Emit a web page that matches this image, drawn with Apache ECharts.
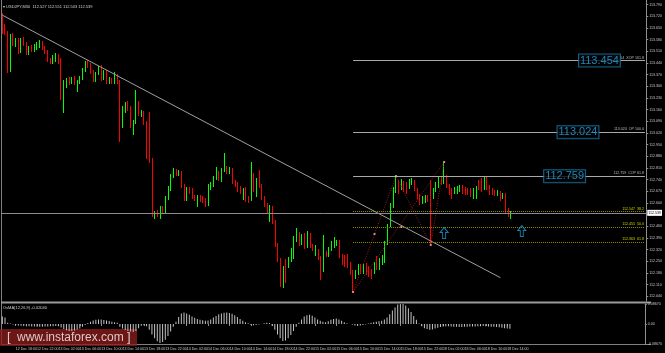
<!DOCTYPE html>
<html>
<head>
<meta charset="utf-8">
<title>USDJPY M30</title>
<script src="https://cdn.jsdelivr.net/npm/echarts@6.0.0/dist/echarts.min.js"></script>
<style>
html, body { margin: 0; padding: 0; background: #000; }
#chart { width: 665px; height: 353px; }
</style>
</head>
<body>
<div id="chart"></div>
<script>
const symbolName = "USDJPY,M30";

// one row per M30 bar: [open, close, low, high]
const ohlc = [
  [113.697, 113.625, 113.613, 113.739], [113.637, 113.619, 113.607, 113.673], [113.619, 113.397, 113.379, 113.631],
  [113.397, 113.601, 113.385, 113.613], [113.601, 113.553, 113.541, 113.619], [113.553, 113.577, 113.535, 113.589],
  [113.577, 113.505, 113.493, 113.589], [113.505, 113.577, 113.499, 113.589], [113.577, 113.553, 113.541, 113.595],
  [113.553, 113.499, 113.487, 113.565], [113.499, 113.529, 113.487, 113.541], [113.529, 113.517, 113.505, 113.547],
  [113.517, 113.535, 113.505, 113.553], [113.535, 113.547, 113.517, 113.565], [113.547, 113.565, 113.529, 113.577],
  [113.565, 113.529, 113.517, 113.571], [113.529, 113.505, 113.493, 113.541], [113.505, 113.457, 113.445, 113.517],
  [113.457, 113.445, 113.433, 113.469], [113.445, 113.475, 113.433, 113.487], [113.475, 113.481, 113.445, 113.499],
  [113.481, 113.445, 113.433, 113.493], [113.457, 113.229, 113.217, 113.469], [113.229, 113.325, 113.139, 113.337],
  [113.313, 113.337, 113.289, 113.349], [113.337, 113.325, 113.307, 113.355], [113.325, 113.343, 113.313, 113.355],
  [113.343, 113.319, 113.307, 113.361], [113.319, 113.325, 113.265, 113.337], [113.325, 113.349, 113.313, 113.361],
  [113.349, 113.397, 113.337, 113.409], [113.397, 113.439, 113.385, 113.451], [113.439, 113.421, 113.409, 113.457],
  [113.421, 113.385, 113.373, 113.439], [113.385, 113.337, 113.325, 113.397], [113.337, 113.379, 113.325, 113.385],
  [113.379, 113.409, 113.367, 113.421], [113.409, 113.343, 113.331, 113.427], [113.343, 113.385, 113.337, 113.397],
  [113.385, 113.325, 113.313, 113.397], [113.325, 113.337, 113.313, 113.355], [113.337, 113.325, 113.313, 113.349],
  [113.325, 113.361, 113.313, 113.385], [113.361, 113.325, 113.313, 113.373], [113.325, 113.073, 112.965, 113.337],
  [113.073, 113.157, 113.049, 113.181], [113.157, 113.193, 113.139, 113.205], [113.193, 113.169, 113.151, 113.211],
  [113.169, 113.061, 113.049, 113.181], [113.061, 113.085, 113.007, 113.097], [113.085, 113.199, 113.073, 113.277],
  [113.199, 113.133, 113.121, 113.211], [113.133, 113.139, 113.115, 113.157], [113.139, 113.079, 113.067, 113.151],
  [113.079, 112.875, 112.863, 113.091], [112.875, 112.857, 112.839, 113.145], [112.857, 112.539, 112.515, 112.869],
  [112.521, 112.539, 112.503, 112.551], [112.545, 112.527, 112.515, 112.557], [112.521, 112.569, 112.503, 112.581],
  [112.569, 112.551, 112.539, 112.581], [112.551, 112.629, 112.539, 112.641], [112.629, 112.689, 112.617, 112.701],
  [112.689, 112.761, 112.671, 112.773], [112.761, 112.791, 112.749, 112.809], [112.791, 112.773, 112.761, 112.803],
  [112.773, 112.785, 112.761, 112.797], [112.779, 112.701, 112.689, 112.791], [112.701, 112.623, 112.611, 112.713],
  [112.623, 112.683, 112.611, 112.695], [112.683, 112.665, 112.653, 112.695], [112.677, 112.635, 112.623, 112.689],
  [112.635, 112.623, 112.611, 112.647], [112.623, 112.635, 112.575, 112.647], [112.635, 112.617, 112.605, 112.647],
  [112.623, 112.611, 112.599, 112.641], [112.617, 112.587, 112.575, 112.629], [112.587, 112.701, 112.581, 112.713],
  [112.689, 112.713, 112.677, 112.725], [112.707, 112.749, 112.695, 112.761], [112.749, 112.779, 112.737, 112.815],
  [112.779, 112.743, 112.731, 112.791], [112.737, 112.797, 112.725, 112.809], [112.797, 112.809, 112.785, 112.899],
  [112.809, 112.785, 112.773, 112.821], [112.785, 112.803, 112.773, 112.815], [112.797, 112.725, 112.713, 112.809],
  [112.725, 112.707, 112.695, 112.737], [112.713, 112.677, 112.665, 112.725], [112.689, 112.665, 112.653, 112.701],
  [112.629, 112.677, 112.617, 112.689], [112.683, 112.617, 112.605, 112.695], [112.629, 112.611, 112.599, 112.641],
  [112.617, 112.767, 112.611, 112.845], [112.767, 112.677, 112.665, 112.779], [112.665, 112.737, 112.635, 112.749],
  [112.749, 112.701, 112.689, 112.797], [112.701, 112.629, 112.617, 112.713], [112.629, 112.587, 112.575, 112.641],
  [112.587, 112.557, 112.539, 112.599], [112.527, 112.569, 112.485, 112.587], [112.569, 112.485, 112.473, 112.581],
  [112.485, 112.347, 112.335, 112.497], [112.347, 112.257, 112.245, 112.359], [112.257, 112.113, 112.095, 112.269],
  [112.107, 112.209, 112.089, 112.221], [112.245, 112.227, 112.119, 112.263], [112.227, 112.263, 112.209, 112.275],
  [112.257, 112.317, 112.245, 112.329], [112.305, 112.389, 112.263, 112.401], [112.377, 112.413, 112.365, 112.449],
  [112.413, 112.353, 112.341, 112.425], [112.359, 112.395, 112.347, 112.413], [112.401, 112.335, 112.323, 112.419],
  [112.341, 112.413, 112.329, 112.431], [112.407, 112.341, 112.329, 112.419], [112.341, 112.323, 112.311, 112.353],
  [112.293, 112.335, 112.281, 112.347], [112.311, 112.269, 112.257, 112.323], [112.269, 112.197, 112.137, 112.281],
  [112.197, 112.299, 112.185, 112.407], [112.299, 112.287, 112.275, 112.311], [112.287, 112.323, 112.275, 112.335],
  [112.323, 112.359, 112.311, 112.371], [112.341, 112.377, 112.329, 112.395], [112.353, 112.365, 112.341, 112.377],
  [112.365, 112.281, 112.269, 112.377], [112.281, 112.239, 112.227, 112.293], [112.269, 112.227, 112.215, 112.287],
  [112.281, 112.221, 112.209, 112.293], [112.233, 112.179, 112.167, 112.245], [112.185, 112.155, 112.065, 112.197],
  [112.155, 112.185, 112.143, 112.197], [112.179, 112.221, 112.167, 112.233], [112.221, 112.185, 112.173, 112.233],
  [112.185, 112.221, 112.173, 112.233], [112.227, 112.179, 112.167, 112.239], [112.209, 112.167, 112.155, 112.221],
  [112.191, 112.155, 112.143, 112.203], [112.185, 112.233, 112.173, 112.245], [112.263, 112.215, 112.197, 112.281],
  [112.209, 112.257, 112.197, 112.269], [112.239, 112.275, 112.227, 112.287], [112.251, 112.359, 112.239, 112.371],
  [112.359, 112.461, 112.347, 112.473], [112.467, 112.587, 112.455, 112.599], [112.587, 112.677, 112.569, 112.695],
  [112.677, 112.749, 112.659, 112.761], [112.725, 112.665, 112.653, 112.737], [112.689, 112.731, 112.677, 112.743],
  [112.719, 112.677, 112.665, 112.731], [112.713, 112.665, 112.653, 112.725], [112.695, 112.731, 112.683, 112.743],
  [112.719, 112.737, 112.707, 112.749], [112.725, 112.683, 112.671, 112.737], [112.677, 112.635, 112.623, 112.689],
  [112.641, 112.599, 112.587, 112.653], [112.605, 112.629, 112.593, 112.641], [112.611, 112.635, 112.599, 112.647],
  [112.635, 112.617, 112.605, 112.647], [112.701, 112.641, 112.347, 112.737], [112.635, 112.677, 112.623, 112.689],
  [112.677, 112.713, 112.665, 112.725], [112.701, 112.743, 112.689, 112.755], [112.743, 112.719, 112.707, 112.755],
  [112.725, 112.755, 112.713, 112.845], [112.755, 112.701, 112.689, 112.767], [112.701, 112.659, 112.647, 112.713],
  [112.677, 112.659, 112.623, 112.689], [112.665, 112.683, 112.653, 112.695], [112.665, 112.689, 112.653, 112.701],
  [112.677, 112.695, 112.665, 112.707], [112.695, 112.665, 112.653, 112.707], [112.683, 112.659, 112.647, 112.695],
  [112.677, 112.659, 112.647, 112.689], [112.677, 112.647, 112.635, 112.689], [112.635, 112.677, 112.623, 112.689],
  [112.635, 112.689, 112.623, 112.701], [112.725, 112.689, 112.677, 112.737], [112.731, 112.677, 112.665, 112.749],
  [112.689, 112.749, 112.677, 112.761], [112.749, 112.689, 112.677, 112.761], [112.695, 112.659, 112.647, 112.707],
  [112.677, 112.659, 112.647, 112.689], [112.665, 112.653, 112.641, 112.677], [112.653, 112.665, 112.641, 112.677],
  [112.659, 112.623, 112.611, 112.671], [112.635, 112.647, 112.623, 112.659], [112.647, 112.545, 112.533, 112.659],
  [112.557, 112.527, 112.515, 112.569], [112.527, 112.539, 112.503, 112.551]
];

// OsMA(12,26,9) per bar
const osma = [
  0.032, 0.028, 0.005, 0.002, -0.002, -0.004, -0.006, -0.008, -0.009, -0.010,
  -0.010, -0.011, -0.011, -0.012, -0.012, -0.012, -0.011, -0.011, -0.010, -0.010,
  -0.009, -0.010, -0.015, -0.022, -0.027, -0.030, -0.030, -0.028, -0.024, -0.019,
  -0.012, -0.004, 0.004, 0.010, 0.015, 0.018, 0.020, 0.019, 0.017, 0.015,
  0.013, 0.010, 0.008, 0.005, -0.012, -0.020, -0.026, -0.030, -0.033, -0.035,
  -0.030, -0.018, -0.008, -0.005, -0.010, -0.025, -0.045, -0.062, -0.075, -0.082,
  -0.078, -0.068, -0.052, -0.032, -0.012, 0.010, 0.030, 0.045, 0.050, 0.046,
  0.040, 0.033, 0.027, 0.022, 0.018, 0.016, 0.014, 0.015, 0.020, 0.028,
  0.035, 0.042, 0.046, 0.049, 0.050, 0.048, 0.044, 0.038, 0.030, 0.022,
  0.014, 0.008, 0.003, -0.003, -0.005, -0.004, -0.002, 0.000, 0.003, 0.005,
  0.004, -0.008, -0.025, -0.045, -0.062, -0.074, -0.072, -0.062, -0.048, -0.030,
  -0.012, 0.005, 0.020, 0.032, 0.038, 0.040, 0.036, 0.028, 0.020, 0.014,
  0.010, 0.008, 0.012, 0.018, 0.022, 0.024, 0.020, 0.014, 0.008, 0.003,
  0.000, -0.003, -0.006, -0.007, -0.006, -0.004, -0.002, 0.002, 0.005, 0.008,
  0.010, 0.012, 0.014, 0.020, 0.028, 0.042, 0.058, 0.072, 0.084, 0.090,
  0.088, 0.080, 0.068, 0.052, 0.035, 0.018, 0.002, -0.010, -0.018, -0.022,
  -0.025, -0.024, -0.020, -0.016, -0.013, -0.011, -0.010, -0.010, -0.011, -0.012,
  -0.012, -0.013, -0.013, -0.012, -0.012, -0.011, -0.011, -0.011, -0.010, -0.010,
  -0.009, -0.010, -0.011, -0.012, -0.012, -0.013, -0.014, -0.016, -0.018, -0.019,
  -0.0204
];

const timeTickBar = [0, 5, 13, 21, 29, 37, 45, 53, 61, 69, 77, 85, 93, 101, 109, 117, 125, 133, 141, 149, 157, 165, 173, 181, 189];
const timeTickText = [
  "12 Dec 2017", "12 Dec 18:00", "12 Dec 22:00", "13 Dec 02:00", "13 Dec 06:00", "13 Dec 10:00", "13 Dec 14:00",
  "13 Dec 18:00", "13 Dec 22:00", "14 Dec 02:00", "14 Dec 06:00", "14 Dec 10:00", "14 Dec 14:00", "14 Dec 18:00",
  "14 Dec 22:00", "15 Dec 02:00", "15 Dec 06:00", "15 Dec 10:00", "15 Dec 14:00", "15 Dec 18:00", "15 Dec 22:00",
  "18 Dec 02:00", "18 Dec 06:00", "18 Dec 10:00", "18 Dec 14:00"
];

const priceTicks = [
  113.79, 113.72, 113.65, 113.58, 113.51, 113.44, 113.37, 113.30, 113.23, 113.16, 113.09, 113.02, 112.95,
  112.88, 112.81, 112.74, 112.67, 112.60, 112.53, 112.46, 112.39, 112.32, 112.25, 112.18, 112.11, 112.04
];

// expansion levels (blue boxes) and retracement levels (yellow)
const levelPrices = [113.454, 113.024, 112.759];
const levelNames = ["XOP 161.8", "OP 100.0", "COP 61.8"];
const levelBoxBar = [223, 215, 210];
const fibPrices = [112.547, 112.455, 112.363];
const fibNames = ["38.2", "50.0", "61.8"];
const levelFromBar = 131;

const trendBar = [0, 186];
const trendPrice = [113.726, 112.151];

const zigBar = [131, 147, 160, 165];
const zigPrice = [112.065, 112.761, 112.347, 112.845];
const pivotBar = [131, 139, 147, 149, 160, 165];
const pivotPrice = [112.065, 112.413, 112.761, 112.455, 112.347, 112.845];

const arrowBar = [165, 194];
const arrowPrice = [112.419, 112.431];

const slots = 241;

function initChart() {
  let myChart = echarts.init(document.getElementById("chart"));
  let cats = [];
  for (let i = 0; i < slots; i++) cats.push(String(i));
  let tickAt = {};
  timeTickBar.forEach((b, k) => (tickAt[b] = timeTickText[k]));

  let last = ohlc[ohlc.length - 1];
  let bid = last[1];
  let font = "Liberation Sans";
  let small = { fontSize: 3.6, color: "#c8c8c8", fontFamily: font };
  let zigStyle = { color: "#9a1c1c", width: 1, type: [1, 1.5] };

  let marks = [
    {
      yAxis: bid,
      lineStyle: { color: "#8c8c8c", type: "solid", width: 1 },
      label: {
        show: true, position: "end", formatter: bid.toFixed(3), distance: 1,
        backgroundColor: "#fff", color: "#000", fontSize: 3.6, padding: [1, 1], fontFamily: font
      }
    }
  ];
  levelPrices.forEach((p, k) => {
    marks.push([
      {
        coord: [levelFromBar, p], name: p.toFixed(3) + "  " + levelNames[k],
        lineStyle: { color: "#a8a8a8", type: "solid", width: 1 },
        label: { show: true, position: "insideEndTop", formatter: "{b}", distance: 1, fontSize: 3.6, color: "#bdbdbd", fontFamily: font }
      },
      { coord: [slots - 1, p] }
    ]);
  });
  fibPrices.forEach((p, k) => {
    marks.push([
      {
        coord: [levelFromBar, p], name: p.toFixed(3) + "  " + fibNames[k],
        lineStyle: { color: "#8f8f00", type: "dotted", width: 1 },
        label: { show: true, position: "insideEndTop", formatter: "{b}", distance: 1, fontSize: 3.6, color: "#d0d000", fontFamily: font }
      },
      { coord: [slots - 1, p] }
    ]);
  });

  let option = {
    backgroundColor: "#000",
    animation: false,
    textStyle: { fontFamily: font },
    grid: [
      { left: 1, top: 0, width: 650, height: 301 },
      { left: 1, top: 304, width: 650, height: 40 }
    ],
    xAxis: [
      {
        type: "category", gridIndex: 0, data: cats, boundaryGap: true,
        axisLine: { show: false }, axisTick: { show: false }, axisLabel: { show: false }
      },
      {
        type: "category", gridIndex: 1, data: cats, boundaryGap: true,
        axisLine: { show: false },
        axisTick: {
          show: true, alignWithLabel: true, length: 2,
          interval: (i) => tickAt[i] !== undefined,
          lineStyle: { color: "#909090" }
        },
        axisLabel: Object.assign({}, small, {
          interval: (i) => tickAt[i] !== undefined,
          formatter: (v, i) => tickAt[i] || "",
          align: "left", margin: 3
        })
      }
    ],
    yAxis: [
      {
        type: "value", gridIndex: 0, position: "right", min: 112.011, max: 113.817, scale: true,
        splitLine: { show: false },
        axisLine: { show: true, lineStyle: { color: "#909090" } },
        axisTick: { show: true, length: 2, customValues: priceTicks, lineStyle: { color: "#909090" } },
        axisLabel: Object.assign({}, small, {
          customValues: priceTicks, formatter: (v) => v.toFixed(3), margin: 3
        })
      },
      {
        type: "value", gridIndex: 1, position: "right", min: -0.0867, max: 0.0867, interval: 0.0867,
        splitLine: { show: false },
        axisLine: { show: true, lineStyle: { color: "#909090" } },
        axisTick: { show: true, length: 2, lineStyle: { color: "#909090" } },
        axisLabel: Object.assign({}, small, {
          formatter: (v) => (Math.abs(v) < 1e-9 ? "0.00" : v.toFixed(5)), margin: 3
        })
      }
    ],
    series: [
      {
        type: "candlestick",
        xAxisIndex: 0, yAxisIndex: 0,
        data: ohlc,
        barWidth: 1.2,
        itemStyle: {
          color: "#00ff00", color0: "#ff0000",
          borderColor: "#00ff00", borderColor0: "#ff0000", borderWidth: 1
        },
        markLine: { silent: true, symbol: ["none", "none"], animation: false, data: marks },
        z: 3
      },
      {
        // trend line
        type: "line", xAxisIndex: 0, yAxisIndex: 0, symbol: "none", silent: true,
        data: trendBar.map((b, k) => [b, trendPrice[k]]),
        lineStyle: { color: "#a0a0a0", width: 1 }, z: 4
      },
      {
        type: "line", xAxisIndex: 0, yAxisIndex: 0, symbol: "none", silent: true,
        data: zigBar.map((b, k) => [b, zigPrice[k]]),
        lineStyle: zigStyle, z: 4
      },
      {
        type: "line", xAxisIndex: 0, yAxisIndex: 0, symbol: "none", silent: true,
        data: [[zigBar[0], zigPrice[0]], [zigBar[3], zigPrice[3]]],
        lineStyle: zigStyle, z: 4
      },
      {
        type: "scatter", xAxisIndex: 0, yAxisIndex: 0, silent: true,
        symbol: "rect", symbolSize: 2,
        data: pivotBar.map((b, k) => [b, pivotPrice[k]]),
        itemStyle: { color: "#f0b0b0" }, z: 5
      },
      {
        type: "scatter", xAxisIndex: 0, yAxisIndex: 0, silent: true,
        symbol: "path://M4,0 L8,5 L5.5,5 L5.5,11 L2.5,11 L2.5,5 L0,5 Z",
        symbolSize: [8, 11],
        data: arrowBar.map((b, k) => [b, arrowPrice[k]]),
        itemStyle: { color: "rgba(0,0,0,0)", borderColor: "#1e9fd8", borderWidth: 1 }, z: 5
      },
      {
        type: "scatter", xAxisIndex: 0, yAxisIndex: 0, silent: true,
        symbol: "rect", symbolSize: 1,
        data: levelBoxBar.map((b, k) => [b, levelPrices[k]]),
        itemStyle: { color: "rgba(0,0,0,0)" },
        label: {
          show: true, position: "inside", formatter: (p) => p.value[1].toFixed(3),
          fontSize: 11, color: "#22a8ea", backgroundColor: "#000",
          borderColor: "#1d78a8", borderWidth: 1, padding: [1, 1, 0, 1], fontFamily: font
        },
        z: 10
      },
      {
        type: "bar", xAxisIndex: 1, yAxisIndex: 1, data: osma, barWidth: 1,
        itemStyle: { color: "#c4c4c4" }, silent: true
      }
    ],
    graphic: [
      { type: "line", shape: { x1: 1.5, y1: 0, x2: 1.5, y2: 345 }, style: { stroke: "#808080", lineWidth: 1 } },
      { type: "rect", shape: { x: 1, y: 301.5, width: 650, height: 2 }, style: { fill: "#9a9a9a" } },
      { type: "line", shape: { x1: 1, y1: 344.5, x2: 651, y2: 344.5 }, style: { stroke: "#808080", lineWidth: 1 } },
      {
        type: "text", left: 3, top: 5,
        style: {
          text: "\u25BE " + symbolName + "  " + last[0].toFixed(3) + " " + last[3].toFixed(3) + " " + last[2].toFixed(3) + " " + bid.toFixed(3),
          fill: "#d0d0d0", fontSize: 4, fontFamily: font
        }
      },
      {
        type: "text", left: 3, top: 306,
        style: { text: "OsMA(12,26,9) " + osma[osma.length - 1].toFixed(5), fill: "#d0d0d0", fontSize: 4, fontFamily: font }
      },
      {
        type: "group", left: 0, top: 329, z: 100,
        children: [
          { type: "rect", shape: { x: 0, y: 0, width: 137, height: 17 }, style: { fill: "rgba(140,28,28,0.78)" } },
          { type: "text", x: 7, y: 8.5, style: { text: "[", fill: "#dccaca", fontSize: 13, fontFamily: font, verticalAlign: "middle" } },
          { type: "text", x: 17, y: 8.5, style: { text: "www.instaforex.com", fill: "#dccaca", fontSize: 12, fontFamily: font, verticalAlign: "middle" } },
          { type: "text", x: 127, y: 8.5, style: { text: "]", fill: "#dccaca", fontSize: 13, fontFamily: font, verticalAlign: "middle" } }
        ]
      }
    ]
  };
  myChart.setOption(option);
}

initChart();
</script>
</body>
</html>
